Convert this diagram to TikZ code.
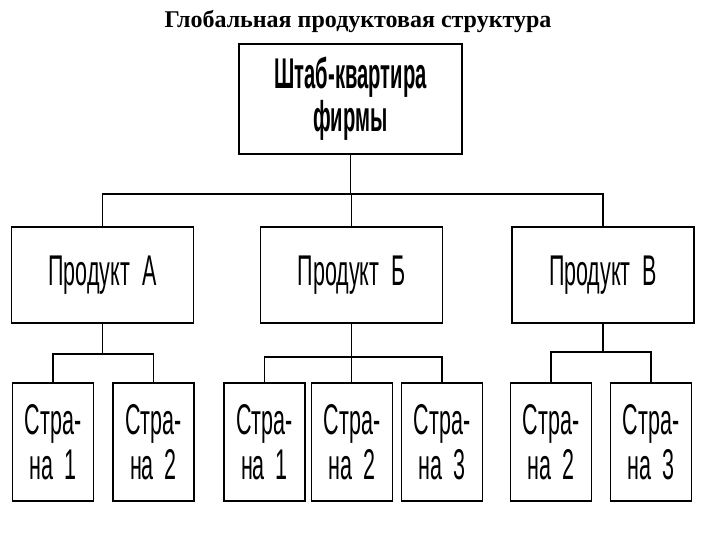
\documentclass[tikz,border=0pt]{standalone}
\usepackage{fontspec}
\setmainfont{Liberation Serif}
\newfontfamily\narrowfont[FakeStretch=0.5]{Liberation Sans}
\newfontfamily\narrowbold[FakeStretch=0.47, UprightFont=* Bold]{Liberation Sans}
\tikzset{
    block/.style={
        draw,
        line width=1.2pt,
        inner sep=0pt,
        align=center,
        font=\narrowfont\fontsize{43}{45}\selectfont
    },
    headbox/.style={
        block,
        minimum width=223pt,
        minimum height=110pt,
        font=\narrowbold\fontsize{43}{43}\selectfont
    },
    prodbox/.style={
        block,
        minimum width=182pt,
        minimum height=96pt
    },
    countrybox/.style={
        block,
        minimum width=81pt,
        minimum height=118pt
    },
    link/.style={
        line width=1.2pt
    }
}

\begin{document}
\begin{tikzpicture}[
    x=1pt,
    y=-1pt
]
    \useasboundingbox (0,0) rectangle (720,540);

    % Заголовок
    \node[font=\bfseries\fontsize{24}{28}\selectfont, anchor=base] (title) at (358,28) {Глобальная продуктовая структура};

    % Штаб-квартира и продукты
    \node[headbox] (hq) at (350.5,99) {Штаб-квартира\\фирмы};
    \node[prodbox] (pa) at (102.5,275) {Продукт~~А};
    \node[prodbox] (pb) at (351.5,275) {Продукт~~Б};
    \node[prodbox] (pv) at (603,275)   {Продукт~~В};

    % Страны
    \node[countrybox] (a1) at (53,442)    {Стра-\\на\hspace{5pt} 1};
    \node[countrybox] (a2) at (153.5,442) {Стра-\\на\hspace{5pt} 2};
    \node[countrybox] (b1) at (264.5,442) {Стра-\\на\hspace{5pt} 1};
    \node[countrybox] (b2) at (352,442)   {Стра-\\на\hspace{5pt} 2};
    \node[countrybox] (b3) at (442,442)   {Стра-\\на\hspace{5pt} 3};
    \node[countrybox] (v2) at (551,442)   {Стра-\\на\hspace{5pt} 2};
    \node[countrybox] (v3) at (651,442)   {Стра-\\на\hspace{5pt} 3};

    % Уровни шин
    \coordinate (bus)  at (0,194);
    \coordinate (abar) at (0,354);
    \coordinate (bbar) at (0,357);
    \coordinate (vbar) at (0,352);

    % Связи сверху
    \draw[link] (hq.south) -- (hq.south |- bus);
    \draw[link] (pa.north) |- (pv.north |- bus) -- (pv.north);
    \draw[link] (pb.north) -- (pb.north |- bus);

    % Продукт А
    \draw[link] (pa.south) -- (pa.south |- abar);
    \draw[link] (a1.north) |- (a2.north |- abar) -- (a2.north);

    % Продукт Б
    \draw[link] (pb.south) -- (pb.south |- b2.north);
    \draw[link] (b1.north) |- (b3.north |- bbar) -- (b3.north);

    % Продукт В
    \draw[link] (pv.south) -- (pv.south |- vbar);
    \draw[link] (v2.north) |- (v3.north |- vbar) -- (v3.north);

\end{tikzpicture}
\end{document}
